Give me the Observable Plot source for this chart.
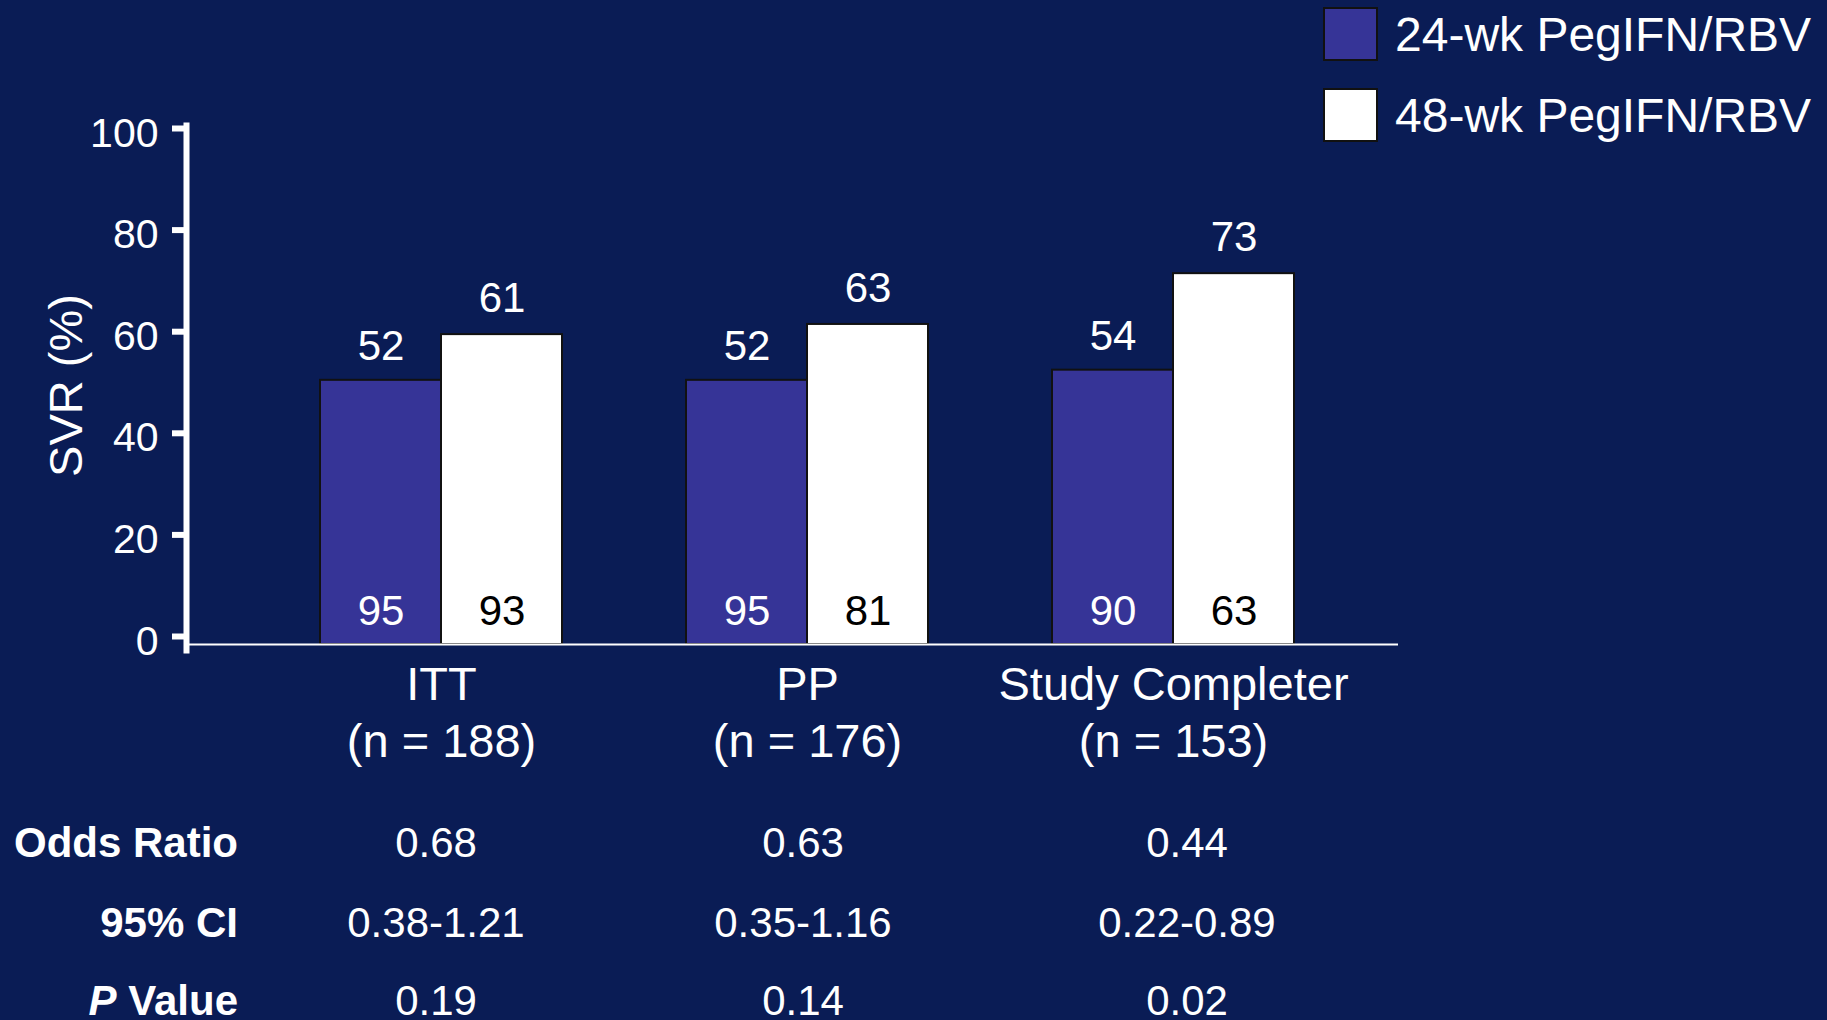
<!DOCTYPE html>
<html>
<head>
<meta charset="utf-8">
<script src="https://cdn.jsdelivr.net/npm/d3@7"></script>
<script src="https://cdn.jsdelivr.net/npm/@observablehq/plot@0.6"></script>
<style>
  html, body { margin: 0; padding: 0; background: #0a1c55; width: 1827px; height: 1020px; overflow: hidden;
    font-family: "Liberation Sans", Arial, sans-serif; color: #fff; }
  #chart { position: absolute; left: 0; top: 0; }
  .sw { position: absolute; width: 51px; height: 50px; border: 2.5px solid #111; }
  .lt { position: absolute; font-size: 48px; line-height: 1; white-space: nowrap; transform: translateY(-50%); }
  .cell { position: absolute; font-size: 42px; line-height: 1; white-space: nowrap; }
  .c { transform: translate(-50%, -50%); }
  .r { transform: translate(-100%, -50%); font-weight: bold; }
</style>
</head>
<body>
<div id="chart"></div>
<div id="legend"></div>
<div id="table"></div>
<script>
// ---- data ----
const groups = ["ITT", "PP", "Study Completer"];
const groupN = [188, 176, 153];
const arms = ["24-wk PegIFN/RBV", "48-wk PegIFN/RBV"];
const armColors = ["#363497", "#ffffff"];
const svr24 = [52, 52, 54];
const svr48 = [61, 63, 73];
const n24 = [95, 95, 90];
const n48 = [93, 81, 63];
const yTicks = [0, 20, 40, 60, 80, 100];
const rowLabels = ["Odds Ratio", "95% CI", "P Value"];
const oddsRatio = ["0.68", "0.63", "0.44"];
const ci95 = ["0.38-1.21", "0.35-1.16", "0.22-0.89"];
const pValue = ["0.19", "0.14", "0.02"];

// ---- chart ----
const rows24 = groups.map((g, i) => ({group: g, svr: svr24[i], n: n24[i]}));
const rows48 = groups.map((g, i) => ({group: g, svr: svr48[i], n: n48[i]}));
const W = 1827, H = 780;
const half = 121;
const font = "Liberation Sans, Arial, sans-serif";

const chart = Plot.plot({
  width: W, height: H,
  marginLeft: 186, marginRight: 429, marginTop: 136, marginBottom: H - 644,
  style: {background: "transparent", color: "white", fontFamily: font, overflow: "visible"},
  x: {type: "band", domain: groups, paddingInner: 0.339, paddingOuter: 0.3244, align: 0.563, label: null},
  y: {domain: [0, 100], label: null},
  marks: [
    Plot.barY(rows24, {x: "group", y: "svr", fill: armColors[0], stroke: "#111", strokeWidth: 2, insetRight: half}),
    Plot.barY(rows48, {x: "group", y: "svr", fill: armColors[1], stroke: "#111", strokeWidth: 2, insetLeft: half}),
    Plot.ruleY([0], {stroke: "white", strokeWidth: 2}),
    Plot.frame({anchor: "left", stroke: "white", strokeWidth: 6, insetTop: -11, insetBottom: -6}),
    Plot.axisY(yTicks, {tickSize: 14, strokeWidth: 6, dy: -8, fill: "none", label: null}),
    Plot.axisY(yTicks, {tickSize: 14, tickPadding: 14, stroke: "none", fill: "white", fontSize: 41, dy: -3, label: null}),
    Plot.axisX({tickSize: 0, tickPadding: 14, fontSize: 47, lineHeight: 1.23, label: null,
      tickFormat: d => `${d}\n(n = ${groupN[groups.indexOf(d)]})`}),
    Plot.text(rows24, {x: "group", y: "svr", text: d => String(d.svr), dx: -half / 2, dy: -34, fill: "white", fontSize: 42}),
    Plot.text(rows48, {x: "group", y: "svr", text: d => String(d.svr), dx: half / 2, dy: -36, fill: "white", fontSize: 42}),
    Plot.text(rows24, {x: "group", y: () => 0, text: d => String(d.n), dx: -half / 2, dy: -33, fill: "white", fontSize: 42}),
    Plot.text(rows48, {x: "group", y: () => 0, text: d => String(d.n), dx: half / 2, dy: -33, fill: "black", fontSize: 42}),
    Plot.text(["SVR (%)"], {frameAnchor: "left", textAnchor: "middle", rotate: -90, dx: -120, dy: -5, fill: "white", fontSize: 47})
  ]
});
document.getElementById("chart").appendChild(chart);

// ---- legend ----
const legend = document.getElementById("legend");
const legTops = [7, 88];
arms.forEach((a, i) => {
  const sw = document.createElement("div");
  sw.className = "sw";
  sw.style.left = "1323px";
  sw.style.top = legTops[i] + "px";
  sw.style.background = armColors[i];
  legend.appendChild(sw);
  const t = document.createElement("div");
  t.className = "lt";
  t.style.left = "1395px";
  t.style.top = (legTops[i] + 28) + "px";
  t.textContent = a;
  legend.appendChild(t);
});

// ---- table ----
const table = document.getElementById("table");
const rowY = [843, 923, 1001];
const colX = [436, 803, 1187];
const tableRows = [oddsRatio, ci95, pValue];
rowLabels.forEach((lab, r) => {
  const d = document.createElement("div");
  d.className = "cell r";
  d.style.left = "238px";
  d.style.top = rowY[r] + "px";
  if (lab === "P Value") {
    d.innerHTML = "<i>P</i> Value";
  } else {
    d.textContent = lab;
  }
  table.appendChild(d);
  tableRows[r].forEach((v, c) => {
    const e = document.createElement("div");
    e.className = "cell c";
    e.style.left = colX[c] + "px";
    e.style.top = rowY[r] + "px";
    e.textContent = v;
    table.appendChild(e);
  });
});
</script>
</body>
</html>
